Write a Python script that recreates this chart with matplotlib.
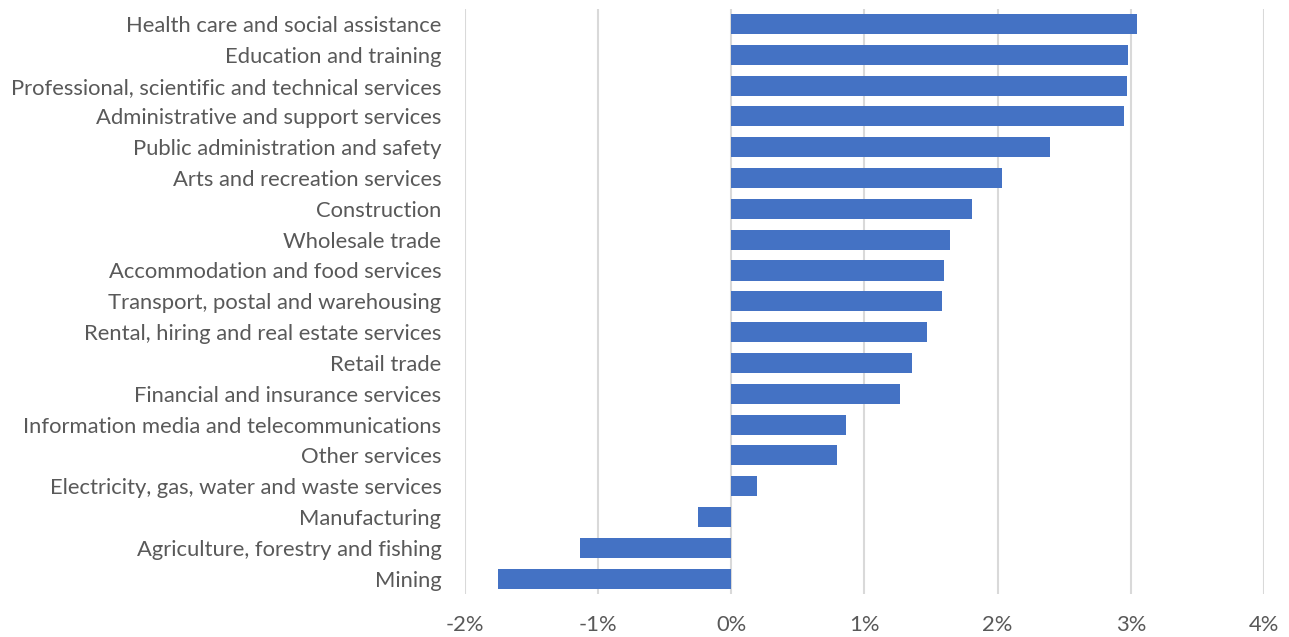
import matplotlib
matplotlib.use("Agg")
import matplotlib.pyplot as plt
from matplotlib.ticker import FuncFormatter

industries = [
    "Health care and social assistance",
    "Education and training",
    "Professional, scientific and technical services",
    "Administrative and support services",
    "Public administration and safety",
    "Arts and recreation services",
    "Construction",
    "Wholesale trade",
    "Accommodation and food services",
    "Transport, postal and warehousing",
    "Rental, hiring and real estate services",
    "Retail trade",
    "Financial and insurance services",
    "Information media and telecommunications",
    "Other services",
    "Electricity, gas, water and waste services",
    "Manufacturing",
    "Agriculture, forestry and fishing",
    "Mining",
]
growth_pct = [3.05, 2.98, 2.97, 2.95, 2.39, 2.03, 1.81, 1.64, 1.60, 1.58,
              1.47, 1.36, 1.27, 0.86, 0.79, 0.19, -0.25, -1.14, -1.75]
x_ticks = [-2, -1, 0, 1, 2, 3, 4]

plt.rcParams['font.family'] = ['Lato', 'DejaVu Sans']
text_color = "#595959"

fig = plt.figure(figsize=(12.89, 6.37), dpi=100)
ax = fig.add_axes([465 / 1289, 1 - 594 / 637, (1264 - 465) / 1289, (594 - 8.6) / 637])

ypos = list(range(len(industries)))
ax.barh(ypos, growth_pct, height=0.65, color="#4472C4", zorder=3)

ax.set_ylim(len(industries) - 0.5, -0.5)
ax.set_xlim(-2, 4)
ax.set_xticks(x_ticks)
ax.xaxis.set_major_formatter(FuncFormatter(lambda v, p: f"{v:.0f}%"))
ax.set_yticks(ypos)
ax.set_yticklabels(industries)

ax.grid(axis="x", color="#d9d9d9", linewidth=1.5, zorder=0)
for s in ax.spines.values():
    s.set_visible(False)
ax.tick_params(axis="both", length=0, labelsize=15.8, colors=text_color)
ax.tick_params(axis="y", pad=17)
ax.tick_params(axis="x", pad=15)

fig.savefig("out.png", dpi=100)
